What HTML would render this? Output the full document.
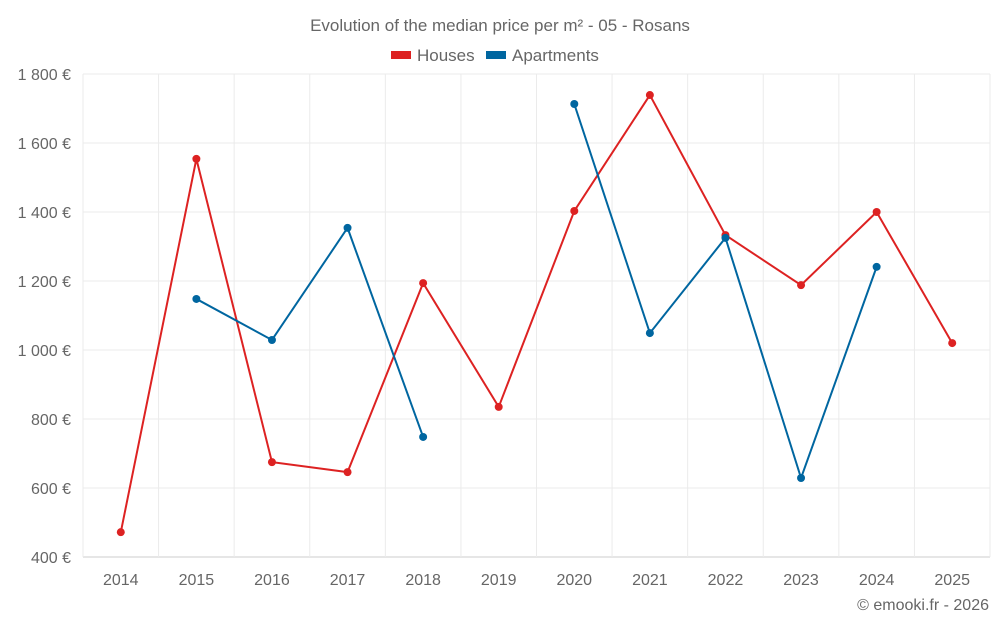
<!DOCTYPE html>
<html><head><meta charset="utf-8"><style>
body{margin:0;background:#fff;font-family:"Liberation Sans",sans-serif}
svg text{font-family:"Liberation Sans",sans-serif;fill:#666}
</style></head><body>
<svg id="c" width="1000" height="625">
<text x="500" y="31" text-anchor="middle" font-size="17">Evolution of the median price per m² - 05 - Rosans</text>
<g>
<g><rect x="391" y="51" width="20" height="8" fill="#dd2222"/><text x="417" y="61" font-size="17">Houses</text></g>
<g><rect x="486" y="51" width="20" height="8" fill="#0066a0"/><text x="512" y="61" font-size="17">Apartments</text></g>
</g>
<g id="grid"></g><g id="axes"></g><g id="series"></g>
<text x="989" y="610" text-anchor="end" font-size="16">© emooki.fr - 2026</text>
</svg>
<script>
const years=[2014,2015,2016,2017,2018,2019,2020,2021,2022,2023,2024,2025];
const houses=[472,1554,675,646,1194,835,1403,1739,1333,1188,1400,1020];
const apartments=[null,1148,1029,1354,748,null,1713,1049,1325,629,1241,null];
const yTicks=[400,600,800,1000,1200,1400,1600,1800];
const yTickLabels=["400 €","600 €","800 €","1 000 €","1 200 €","1 400 €","1 600 €","1 800 €"];
const L=83,R=990,T=74,B=557,ymin=400,ymax=1800;
const step=(R-L)/years.length;
const x=i=>L+step*(i+0.5);
const y=v=>B-(v-ymin)/(ymax-ymin)*(B-T);
const NS="http://www.w3.org/2000/svg";
function mk(t,a,p){const e=document.createElementNS(NS,t);for(const k in a)e.setAttribute(k,a[k]);p.appendChild(e);return e;}
const g=document.getElementById('grid'),ax=document.getElementById('axes'),s=document.getElementById('series');
yTicks.forEach((v,i)=>{
 const l=mk('line',{x1:L,x2:R,y1:y(v),y2:y(v),stroke:i==0?'#ccc':'#ebebeb'},g);
 
 
 const t=mk('text',{x:71,y:y(v)+6,'text-anchor':'end','font-size':'16'},ax);t.textContent=yTickLabels[i];
 
 
});
for(let i=0;i<=years.length;i++){
 const l=mk('line',{x1:L+step*i,x2:L+step*i,y1:T,y2:B,stroke:'#ebebeb'},g);
 
 
}
years.forEach((yr,i)=>{
 const t=mk('text',{x:x(i),y:585,'text-anchor':'middle','font-size':'16'},ax);t.textContent=yr;
 
 
});
function draw(data,color,name){
 let segs=[],cur=[];
 data.forEach((v,i)=>{if(v==null){if(cur.length)segs.push(cur);cur=[];}else cur.push([x(i),y(v)]);});
 if(cur.length)segs.push(cur);
 segs.forEach(sg=>{const p=mk('polyline',{points:sg.map(q=>q.join(',')).join(' '),fill:'none',stroke:color,'stroke-width':2},s);
  
  });
 data.forEach((v,i)=>{if(v==null)return;const c=mk('circle',{cx:x(i),cy:y(v),r:4,fill:color},s);
  
  });
}
draw(houses,'#dd2222','houses');
draw(apartments,'#0066a0','apartments');
</script>
</body></html>
